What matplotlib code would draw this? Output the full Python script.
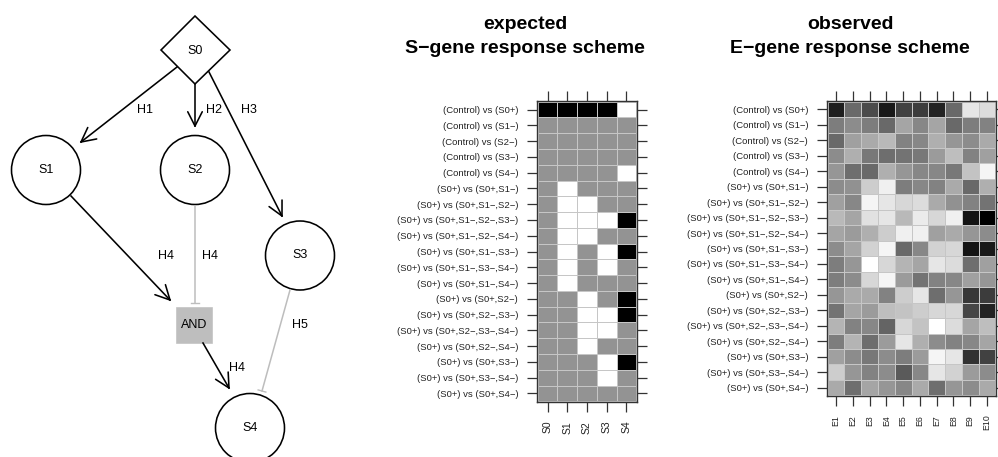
import matplotlib
matplotlib.use("Agg")
import matplotlib.pyplot as plt
import numpy as np
from matplotlib.colors import LinearSegmentedColormap
from matplotlib.patches import Circle, Polygon, Rectangle

plt.rcParams["font.family"] = ["Liberation Sans", "DejaVu Sans"]

W, H = 998, 457

CONTRASTS = [
    "(Control) vs (S0+)", "(Control) vs (S1\u2212)", "(Control) vs (S2\u2212)",
    "(Control) vs (S3\u2212)", "(Control) vs (S4\u2212)",
    "(S0+) vs (S0+,S1\u2212)", "(S0+) vs (S0+,S1\u2212,S2\u2212)",
    "(S0+) vs (S0+,S1\u2212,S2\u2212,S3\u2212)", "(S0+) vs (S0+,S1\u2212,S2\u2212,S4\u2212)",
    "(S0+) vs (S0+,S1\u2212,S3\u2212)", "(S0+) vs (S0+,S1\u2212,S3\u2212,S4\u2212)",
    "(S0+) vs (S0+,S1\u2212,S4\u2212)", "(S0+) vs (S0+,S2\u2212)",
    "(S0+) vs (S0+,S2\u2212,S3\u2212)", "(S0+) vs (S0+,S2\u2212,S3\u2212,S4\u2212)",
    "(S0+) vs (S0+,S2\u2212,S4\u2212)", "(S0+) vs (S0+,S3\u2212)",
    "(S0+) vs (S0+,S3\u2212,S4\u2212)", "(S0+) vs (S0+,S4\u2212)",
]
S_GENES = ["S0", "S1", "S2", "S3", "S4"]
E_GENES = ["E1", "E2", "E3", "E4", "E5", "E6", "E7", "E8", "E9", "E10"]

# -1 down, 0 no change, 1 up
EXPECTED = [
    [-1, -1, -1, -1, 1],
    [0, 0, 0, 0, 0],
    [0, 0, 0, 0, 0],
    [0, 0, 0, 0, 0],
    [0, 0, 0, 0, 1],
    [0, 1, 0, 0, 0],
    [0, 1, 1, 0, 0],
    [0, 1, 1, 1, -1],
    [0, 1, 1, 0, 0],
    [0, 1, 0, 1, -1],
    [0, 1, 0, 1, 0],
    [0, 1, 0, 0, 0],
    [0, 0, 1, 0, -1],
    [0, 0, 1, 1, -1],
    [0, 0, 1, 1, 0],
    [0, 0, 1, 0, 0],
    [0, 0, 0, 1, -1],
    [0, 0, 0, 1, 0],
    [0, 0, 0, 0, 0],
]

# grey level, 0 black .. 255 white
OBSERVED = [
    [30, 105, 75, 25, 65, 60, 35, 105, 230, 220],
    [125, 140, 125, 105, 165, 135, 165, 105, 125, 130],
    [105, 160, 170, 185, 130, 135, 175, 150, 140, 170],
    [140, 175, 120, 110, 115, 120, 155, 190, 130, 160],
    [150, 110, 105, 175, 150, 135, 135, 120, 195, 245],
    [140, 145, 205, 240, 125, 135, 130, 170, 105, 175],
    [160, 135, 245, 230, 215, 220, 170, 145, 130, 115],
    [185, 165, 225, 230, 185, 235, 215, 240, 20, 0],
    [165, 155, 175, 205, 240, 240, 160, 170, 150, 140],
    [140, 165, 210, 245, 105, 135, 210, 215, 20, 25],
    [125, 150, 255, 215, 180, 165, 230, 220, 110, 160],
    [125, 140, 215, 245, 155, 115, 130, 135, 160, 150],
    [150, 170, 170, 130, 205, 230, 110, 150, 55, 60],
    [115, 165, 155, 190, 195, 205, 215, 215, 70, 35],
    [180, 130, 135, 100, 215, 195, 255, 220, 165, 190],
    [125, 180, 110, 155, 230, 175, 140, 130, 135, 165],
    [160, 140, 120, 140, 125, 155, 245, 230, 50, 65],
    [205, 150, 130, 140, 90, 135, 230, 210, 155, 140],
    [170, 110, 165, 150, 135, 170, 110, 150, 140, 170],
]

CIRCLES = {"S1": (46, 170), "S2": (195, 170), "S3": (300, 255.5), "S4": (250, 428)}
ARROWS = [((177, 67), (81, 142)), ((195, 84), (195, 126)), ((209, 72), (282, 216)),
          ((71, 196), (170, 300)), ((203, 343), (229, 388))]
INHIBITS = [((195, 206), (195, 303)), ((290, 290), (262, 391))]
EDGE_LABELS = [("H1", 145, 110), ("H2", 214, 110), ("H3", 249, 110), ("H4", 166, 256),
               ("H4", 210, 256), ("H4", 237, 368), ("H5", 300, 325)]


def px_axes(x0, y0, x1, y1):
    return [x0 / W, 1 - y1 / H, (x1 - x0) / W, (y1 - y0) / H]


def open_head(ax, start, end, size=16, spread=np.radians(27)):
    a = np.arctan2(start[1] - end[1], start[0] - end[0])
    for s in (-spread, spread):
        ax.plot([end[0], end[0] + size * np.cos(a + s)], [end[1], end[1] + size * np.sin(a + s)],
                color="black", lw=1.15, solid_capstyle="round")


def draw_graph(ax):
    ax.set_xlim(0, W)
    ax.set_ylim(H, 0)
    ax.axis("off")
    ax.add_patch(Polygon([(195, 16), (230, 50), (195, 84), (161, 50)], fc="white", ec="black", lw=1.15))
    ax.text(195, 50.5, "S0", ha="center", va="center", fontsize=9)
    for name, xy in CIRCLES.items():
        ax.add_patch(Circle(xy, 34.5, fc="white", ec="black", lw=1.15, clip_on=True))
        ax.text(xy[0], xy[1], name, ha="center", va="center", fontsize=9)
    ax.add_patch(Rectangle((176, 307), 36, 36, fc="#bebebe", ec="#c4c4c4", lw=0.5))
    ax.text(194, 325, "AND", ha="center", va="center", fontsize=9)
    for a, b in ARROWS:
        ax.plot([a[0], b[0]], [a[1], b[1]], color="black", lw=1.15)
        open_head(ax, a, b)
    for a, b in INHIBITS:
        ax.plot([a[0], b[0]], [a[1], b[1]], color="#bdbdbd", lw=1.1)
        ang = np.arctan2(b[1] - a[1], b[0] - a[0]) + np.pi / 2
        dx, dy = 4 * np.cos(ang), 4 * np.sin(ang)
        ax.plot([b[0] - dx, b[0] + dx], [b[1] - dy, b[1] + dy], color="#bdbdbd", lw=1.0)
    for txt, x, y in EDGE_LABELS:
        ax.text(x, y, txt, ha="center", va="center", fontsize=9)


def draw_levelplot(fig, box, mat, genes, title, title_x, xfont, cmap, vmin, vmax):
    ax = fig.add_axes(px_axes(*box))
    mat = np.asarray(mat, dtype=float)
    n_r, n_c = mat.shape
    ax.pcolormesh(np.arange(n_c + 1) - 0.5, np.arange(n_r + 1) - 0.5, mat, cmap=cmap, vmin=vmin, vmax=vmax,
                  edgecolors="#c6c6c6", linewidth=0.6)
    ax.set_xlim(-0.54, n_c - 0.46)
    ax.set_ylim(n_r - 0.46, -0.54)
    ax.set_xticks(range(n_c))
    ax.set_xticklabels(genes, rotation=90, fontsize=xfont, color="#222222")
    ax.set_yticks(range(n_r))
    ax.set_yticklabels(CONTRASTS, fontsize=6.8, color="#222222")
    ax.tick_params(axis="both", length=7, width=0.9, color="#333333", pad=6.5,
                   top=True, right=True, bottom=True, left=True)
    for t in ax.xaxis.get_major_ticks() + ax.yaxis.get_major_ticks():
        t.tick2line.set_clip_on(False)
    for sp in ax.spines.values():
        sp.set_linewidth(1.0)
        sp.set_color("#333333")
    fig.text(title_x / W, 1 - 36.5 / H, title, ha="center", va="center", fontsize=14, fontweight="bold",
             linespacing=1.5)


def main():
    fig = plt.figure(figsize=(W / 100, H / 100), dpi=100)
    draw_graph(fig.add_axes([0, 0, 1, 1]))
    cmap = LinearSegmentedColormap.from_list("resp", ["black", "#939393", "white"])
    draw_levelplot(fig, (537, 101, 637, 402), EXPECTED, S_GENES, "expected\nS\u2212gene response scheme", 525, 7.5, cmap, -1, 1)
    draw_levelplot(fig, (827, 101, 996, 396), OBSERVED, E_GENES, "observed\nE\u2212gene response scheme", 850, 6.3, "gray", 0, 255)
    fig.savefig("out.png", dpi=100)


if __name__ == "__main__":
    main()
